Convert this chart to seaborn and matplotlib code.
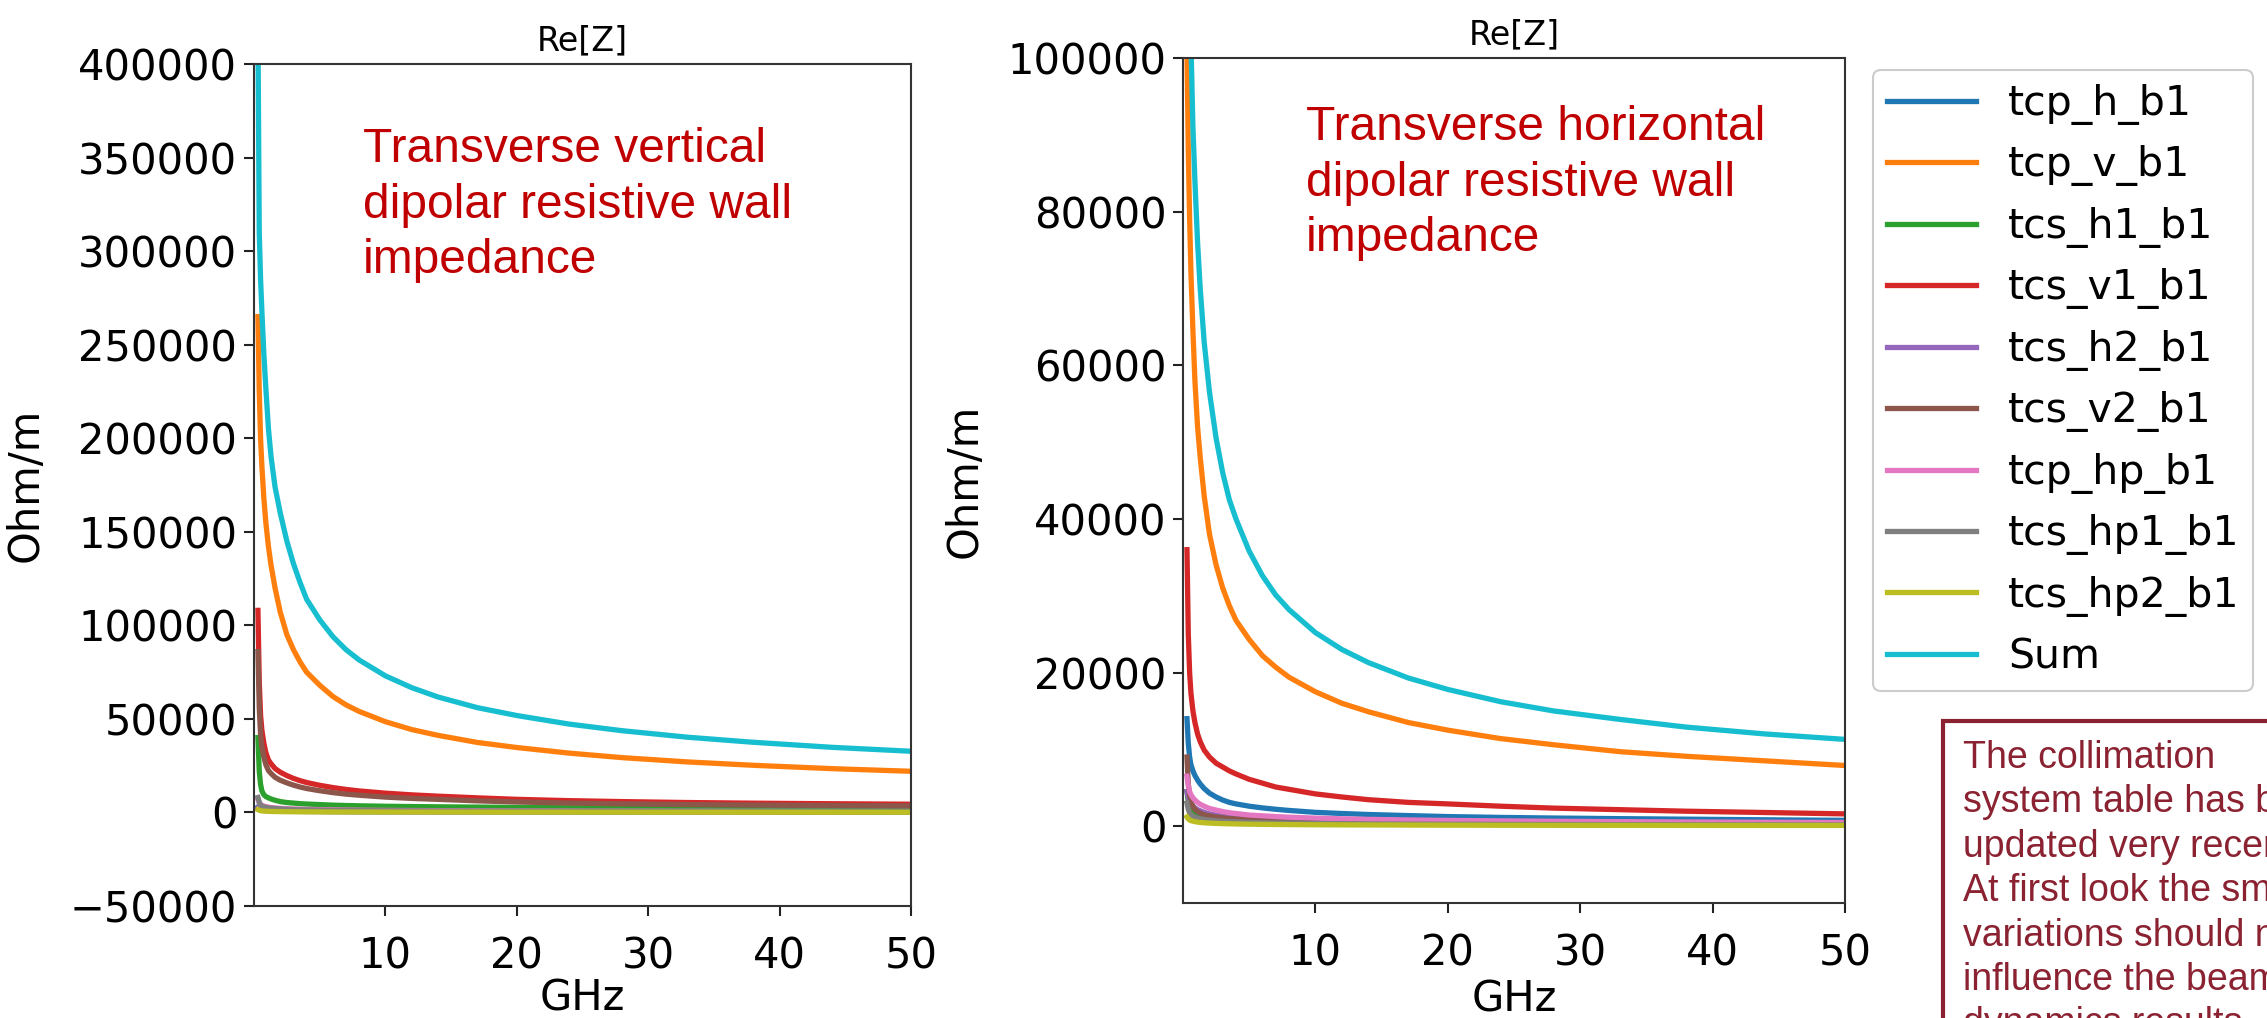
import numpy as np
import pandas as pd
import matplotlib
matplotlib.use("Agg")
import matplotlib.pyplot as plt
import seaborn as sns
from matplotlib.patches import Rectangle

# ---------------------------------------------------------------- data
freq_ghz = [0.3, 0.4, 0.5, 0.6, 0.75, 0.9, 1.1, 1.3, 1.6, 2, 2.5, 3, 3.5, 4, 5,
            6, 7, 8, 10, 12, 14, 17, 20, 24, 28, 33, 38, 44, 50]

element_names = ["tcp_h_b1", "tcp_v_b1", "tcs_h1_b1", "tcs_v1_b1", "tcs_h2_b1",
                 "tcs_v2_b1", "tcp_hp_b1", "tcs_hp1_b1", "tcs_hp2_b1", "Sum"]

# Transverse vertical dipolar Re[Z] (Ohm/m)
v_tcp_h = [3000, 2250, 1850, 1650, 1450, 1300, 1170, 1080, 960, 870, 780, 720, 660, 630, 570,
           510, 480, 450, 405, 375, 345, 315, 290, 265, 245, 230, 215, 200, 185]
v_tcp_v = [265000, 225000, 200000, 185000, 168000, 155000, 142000, 132000, 120000, 107000,
           95000, 87000, 80500, 75000, 68000, 62000, 57500, 54000, 48500, 44300,
           41200, 37400, 34700, 31700, 29300, 27000, 25200, 23400, 22000]
v_tcs_h1 = [40000, 22000, 15000, 11500, 9500, 8500, 7800, 7200, 6500, 5800, 5300, 5000,
            4700, 4500, 4200, 3900, 3700, 3550, 3300, 3150, 3000, 2850, 2700, 2500,
            2350, 2200, 2100, 2000, 1900]
v_tcs_v1 = [108000, 70000, 52000, 44000, 37000, 32000, 28000, 26000, 23500, 21500,
            19700, 18200, 17000, 16000, 14500, 13300, 12300, 11500, 10300, 9400,
            8700, 7800, 7000, 6300, 5800, 5300, 4950, 4650, 4400]
v_tcs_h2 = [2500, 1880, 1550, 1380, 1200, 1080, 980, 900, 800, 720, 650, 600, 550, 520, 480,
            430, 400, 380, 340, 310, 290, 260, 240, 220, 205, 190, 180, 165, 155]
v_tcs_v2 = [86000, 56000, 41600, 35200, 29600, 25600, 22400, 20800, 18800, 17200,
            15800, 14600, 13600, 12800, 11600, 10600, 9800, 9200, 8200, 7500,
            7000, 6200, 5600, 5000, 4600, 4200, 3950, 3700, 3500]
v_tcp_hp = [7000, 5200, 4300, 3800, 3400, 3100, 2800, 2600, 2400, 2200, 2000, 1850, 1750,
            1650, 1500, 1400, 1300, 1220, 1100, 1020, 950, 880, 800, 740, 690, 640,
            600, 560, 520]
v_tcs_hp1 = [8000, 5500, 4000, 3400, 3000, 2700, 2500, 2300, 2100, 1900, 1700, 1550, 1450,
             1350, 1200, 1100, 1020, 960, 880, 820, 770, 710, 660, 610, 570, 530,
             500, 470, 450]
v_tcs_hp2 = [1500, 1120, 930, 820, 720, 650, 580, 540, 480, 430, 390, 360, 330, 310, 280,
             260, 240, 225, 200, 185, 170, 155, 145, 135, 125, 115, 107, 100, 95]
v_sum = [420000, 310000, 285000, 268000, 245000, 227000, 205000, 190000, 174000, 160000,
         145000, 133000, 123000, 114000, 103000, 94000, 87000, 81500, 73000, 66700,
         61700, 56000, 51800, 47200, 43700, 40200, 37500, 34800, 32700]

# Transverse horizontal dipolar Re[Z] (Ohm/m)
h_tcp_h = [14000, 10800, 9000, 8000, 7200, 6600, 6000, 5500, 4900, 4300, 3800, 3400, 3100,
           2900, 2600, 2380, 2200, 2050, 1800, 1650, 1520, 1380, 1250, 1140, 1060,
           980, 910, 830, 760]
h_tcp_v = [101000, 88000, 79000, 72000, 64500, 58000, 52000, 48000, 43000, 38000,
           34000, 31000, 28700, 26800, 24300, 22200, 20700, 19400, 17500, 16000,
           14900, 13500, 12500, 11400, 10600, 9700, 9100, 8500, 7900]
h_tcs_h1 = [4500, 3200, 2500, 2200, 1900, 1700, 1550, 1420, 1280, 1100, 1000, 900, 850,
            800, 700, 650, 600, 560, 500, 460, 430, 390, 370, 340, 315, 295, 275, 255, 240]
h_tcs_v1 = [36000, 25000, 20000, 17300, 15000, 13500, 12000, 11000, 9900, 9000, 8200,
            7700, 7200, 6800, 6100, 5600, 5100, 4800, 4200, 3800, 3450, 3100, 2900,
            2600, 2350, 2150, 1950, 1780, 1600]
h_tcs_h2 = [4500, 3700, 3100, 2850, 2600, 2400, 2150, 2000, 1800, 1600, 1450, 1300, 1220,
            1150, 1000, 940, 870, 820, 730, 670, 620, 570, 520, 480, 450, 410, 385, 355, 335]
h_tcs_v2 = [9000, 5500, 4000, 3200, 2600, 2200, 1900, 1700, 1500, 1350, 1200, 1100, 1000,
            950, 900, 820, 760, 710, 640, 590, 550, 500, 460, 420, 390, 360, 340, 320, 300]
h_tcp_hp = [6500, 5300, 4500, 4100, 3700, 3400, 3100, 2850, 2600, 2300, 2100, 1900, 1750,
            1650, 1450, 1350, 1250, 1170, 1050, 960, 890, 810, 750, 690, 640, 590,
            550, 510, 480]
h_tcs_hp1 = [3000, 2200, 1700, 1480, 1300, 1170, 1050, 970, 870, 780, 700, 640, 600, 560,
             500, 460, 420, 395, 350, 320, 300, 270, 250, 230, 215, 200, 190, 175, 160]
h_tcs_hp2 = [1200, 950, 800, 720, 650, 590, 530, 490, 440, 400, 360, 330, 310, 290, 260,
             240, 220, 205, 185, 170, 160, 148, 130, 120, 112, 106, 101, 97, 95]
h_sum = [140000, 122000, 112000, 102000, 91000, 84000, 76000, 70000, 63000, 56500,
         50500, 46000, 42500, 40000, 35800, 32600, 30100, 28200, 25200, 23000,
         21300, 19300, 17800, 16200, 15000, 13900, 12900, 12000, 11300]

vertical_series = [v_tcp_h, v_tcp_v, v_tcs_h1, v_tcs_v1, v_tcs_h2,
                   v_tcs_v2, v_tcp_hp, v_tcs_hp1, v_tcs_hp2, v_sum]
horizontal_series = [h_tcp_h, h_tcp_v, h_tcs_h1, h_tcs_v1, h_tcs_h2,
                     h_tcs_v2, h_tcp_hp, h_tcs_hp1, h_tcs_hp2, h_sum]
assert all(len(s) == len(freq_ghz) for s in vertical_series + horizontal_series)

left_yticks = list(range(-50000, 400001, 50000))
right_yticks = list(range(0, 100001, 20000))
x_ticks = [10, 20, 30, 40, 50]

# ---------------------------------------------------------------- figure
W, H = 2267, 1018
fig = plt.figure(figsize=(W / 100, H / 100), dpi=100)
fig.patch.set_facecolor("white")
colors = sns.color_palette("tab10", 10)


def add_axes_px(left, top, right, bottom):
    return fig.add_axes([left / W, 1 - bottom / H, (right - left) / W, (bottom - top) / H])


def draw_panel(ax, series, ylim, yticks, ylabel_x, xlabel_y):
    frames = [pd.DataFrame({"GHz": freq_ghz, "Z": vals, "element": name})
              for name, vals in zip(element_names, series)]
    df = pd.concat(frames, ignore_index=True)
    sns.lineplot(data=df, x="GHz", y="Z", hue="element", hue_order=element_names,
                 palette=colors, linewidth=3.8, estimator=None, sort=False,
                 legend=False, ax=ax)
    for ln in ax.get_lines():
        ln.set_solid_joinstyle("round")
    ax.set_xlim(0, 50)
    ax.set_ylim(*ylim)
    ax.set_xticks(x_ticks)
    ax.set_yticks(yticks)
    ax.tick_params(axis="both", labelsize=30, length=7, width=1.5, color="#222222")
    ax.tick_params(axis="x", pad=14)
    ax.tick_params(axis="y", pad=5)
    for sp in ax.spines.values():
        sp.set_linewidth(1.5)
        sp.set_color("#333333")
    ax.set_xlabel("GHz", fontsize=30)
    ax.set_ylabel("Ohm/m", fontsize=30)
    ax.xaxis.set_label_coords(0.5, xlabel_y)
    ax.yaxis.set_label_coords(ylabel_x, 0.5)
    ax.set_title("Re[Z]", fontsize=24, pad=10)


ax_v = add_axes_px(254, 64, 911, 906)
draw_panel(ax_v, vertical_series, (-50000, 400000), left_yticks, -0.315, -0.085)

ax_h = add_axes_px(1183, 58, 1845, 903)
draw_panel(ax_h, horizontal_series, (-10000, 100000), right_yticks, -0.298, -0.089)

# panel captions
fig.text(363 / W, 1 - 127 / H,
         "Transverse vertical\ndipolar resistive wall\nimpedance",
         fontsize=34.5, family="Liberation Sans", color="#C00000",
         ha="left", va="top", linespacing=1.3)
fig.text(1306 / W, 1 - 105 / H,
         "Transverse horizontal\ndipolar resistive wall\nimpedance",
         fontsize=34.5, family="Liberation Sans", color="#C00000",
         ha="left", va="top", linespacing=1.3)

# legend shared by both panels
leg = fig.legend(ax_h.get_lines()[:len(element_names)], element_names,
                 loc="upper left", bbox_to_anchor=(1873 / W, 1 - 70 / H),
                 borderaxespad=0, fontsize=29.5, frameon=True, fancybox=True,
                 edgecolor="#cccccc", framealpha=1, handlelength=2.17,
                 handletextpad=0.78, labelspacing=0.5, borderpad=0.34)
leg.get_frame().set_linewidth(1.5)

# note box
note_color = "#8B2232"
fig.add_artist(Rectangle((1943 / W, 1 - 1040 / H), (2300 - 1943) / W, (1040 - 721) / H,
                         transform=fig.transFigure, fill=False,
                         edgecolor=note_color, linewidth=3, clip_on=False))
fig.text(1963 / W, 1 - 740 / H,
         "The collimation\nsystem table has been\nupdated very recently.\n"
         "At first look the small\nvariations should not\ninfluence the beam\n"
         "dynamics results.",
         fontsize=27, family="Liberation Sans", color=note_color,
         ha="left", va="top", linespacing=1.3)

fig.savefig("out.png", dpi=100)
